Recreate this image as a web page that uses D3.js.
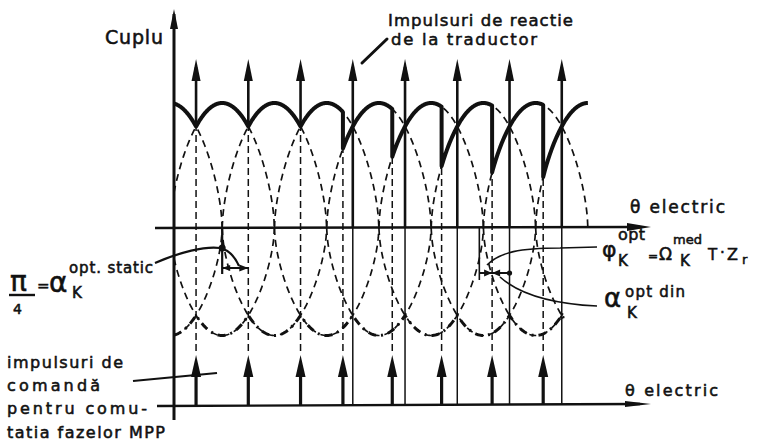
<!DOCTYPE html>
<html>
<head>
<meta charset="utf-8">
<script src="https://cdn.jsdelivr.net/npm/d3@7"></script>
<style>
  html, body { margin: 0; padding: 0; background: #fff; }
  svg { display: block; }
  text { font-family: "DejaVu Sans", sans-serif; fill: #111; stroke: #111; stroke-width: 0.55; }
</style>
</head>
<body>
<svg id="chart" width="768" height="444"></svg>
<script>
// Electrical angle θ (degrees) of each phase torque maximum
const phasePeaks = [-7, 83, 173, 263, 353, 443, 533, 623, 713];
// Feedback pulses from the position transducer (θ, degrees)
const feedbackPulses = [38, 128, 218, 308, 398, 488, 578, 668];
// Command pulses for phase commutation (θ, degrees)
const commandPulses = [38, 128, 218, 291, 376, 461, 548, 636];
// Depth of the negative torque lobes relative to the positive peak
const negDepth = 0.86;
// Static optimum commutation angle: from phase peak to command
const alphaStatic = [83, 128];
// Dynamic optimum: phase peak -> command -> feedback
const alphaDin = [526, 548, 578];

const svg = d3.select("#chart");
const x = d3.scaleLinear().domain([0, 820]).range([174, 650]);
const y = d3.scaleLinear().domain([0, 1]).range([228, 103]);
const yLow = 405;   // command pulse axis
const yTip = 59;    // tip of feedback pulse arrows
const yCmdTip = 355;
const EXP = 0.6;
const ink = "#111";

// phase torque shape around its maximum (d in degrees)
const hump = d => Math.abs(d) >= 90 ? 0 : Math.pow(Math.cos(d * Math.PI / 180), EXP);
const range = (a, b, s = 1) => { const r = []; for (let t = a; t <= b + 1e-9; t += s) r.push(t); if (r[r.length-1] < b) r.push(b); return r; };
const line = d3.line().x(d => x(d[0])).y(d => y(d[1]));

// ---- phase torque curves (dashed)
const gPhase = svg.append("g").attr("fill", "none").attr("stroke", ink)
  .attr("stroke-width", 1.7).attr("stroke-dasharray", "7,5");
phasePeaks.forEach(c => {
  const a = Math.max(0, c - 90), b = Math.min(715, c + 90);
  if (b > a) gPhase.append("path").attr("d", line(range(a, b).map(t => [t, hump(t - c)])));
  const a2 = Math.max(0, c - 90), b2 = Math.min(672, c + 90);
  if (b2 > a2) gPhase.append("path").attr("d", line(range(a2, b2).map(t => [t, -negDepth * hump(t - c)])));
});

// ---- lower envelope (dash-dot)
const lowEnv = range(0, 672).map(t => [t, -negDepth * d3.max(phasePeaks, c => hump(t - c))]);
svg.append("path").attr("d", line(lowEnv)).attr("fill", "none").attr("stroke", ink)
  .attr("stroke-width", 3).attr("stroke-dasharray", "8,5,2,5");

// ---- resulting torque with commutation at command pulses (thick)
const bounds = [0, ...commandPulses, 713];
let torque = [];
for (let i = 0; i < bounds.length - 1; i++) {
  const c = phasePeaks[i];
  torque = torque.concat(range(bounds[i], bounds[i + 1]).map(t => [t, hump(t - c)]));
}
svg.append("path").attr("d", line(torque)).attr("fill", "none").attr("stroke", ink)
  .attr("stroke-width", 4).attr("stroke-linejoin", "round");

// ---- axes
function arrowHead(tx, ty, dir, len, half) {
  const p = dir === "up"
    ? [[tx, ty], [tx - half, ty + len], [tx + half, ty + len]]
    : [[tx, ty], [tx - len, ty - half], [tx - len, ty + half]];
  svg.append("path").attr("d", "M" + p.map(q => q.join(",")).join("L") + "Z").attr("fill", ink);
}
// torque axis
svg.append("line").attr("x1", x(0)).attr("x2", x(0)).attr("y1", 14).attr("y2", 420)
  .attr("stroke", ink).attr("stroke-width", 3);
arrowHead(x(0), 9, "up", 20, 4);
// upper θ axis
svg.append("line").attr("x1", 155).attr("x2", 640).attr("y1", y(0)).attr("y2", y(0) - 1)
  .attr("stroke", ink).attr("stroke-width", 2.6);
arrowHead(651, y(0) - 1, "right", 24, 4);
// lower θ axis
svg.append("line").attr("x1", 157).attr("x2", 640).attr("y1", yLow + 1).attr("y2", yLow - 1)
  .attr("stroke", ink).attr("stroke-width", 2.4);
arrowHead(651, yLow - 1, "right", 26, 3);

// ---- feedback pulses (arrows from the top)
feedbackPulses.forEach((t, i) => {
  const coincide = commandPulses[i] === t;
  const yEnd = coincide ? y(hump(t - phasePeaks[i + 1])) : y(0);
  svg.append("line").attr("x1", x(t)).attr("x2", x(t)).attr("y1", yTip + 8).attr("y2", yEnd)
    .attr("stroke", ink).attr("stroke-width", 2.6);
  if (!coincide) {
    svg.append("line").attr("x1", x(t)).attr("x2", x(t)).attr("y1", y(0)).attr("y2", yLow)
      .attr("stroke", ink).attr("stroke-width", 1.5);
  }
  arrowHead(x(t), yTip, "up", 22, 4.5);
});

// ---- command pulses (arrows on the lower axis) with dashed guides
commandPulses.forEach((t, i) => {
  svg.append("line").attr("x1", x(t)).attr("x2", x(t)).attr("y1", yLow).attr("y2", yCmdTip + 10)
    .attr("stroke", ink).attr("stroke-width", 3.2);
  arrowHead(x(t), yCmdTip, "up", 22, 5);
  svg.append("line").attr("x1", x(t)).attr("x2", x(t)).attr("y1", yCmdTip - 4)
    .attr("y2", y(hump(t - phasePeaks[i + 1])))
    .attr("stroke", ink).attr("stroke-width", 1.5).attr("stroke-dasharray", "7,4");
});

// ---- static optimum angle marker
const gA = svg.append("g").attr("stroke", ink).attr("fill", "none");
gA.append("line").attr("x1", x(alphaStatic[0])).attr("x2", x(alphaStatic[0]))
  .attr("y1", y(0)).attr("y2", 274).attr("stroke-width", 2.2);
gA.append("line").attr("x1", x(alphaStatic[0])).attr("x2", x(alphaStatic[1]))
  .attr("y1", 268).attr("y2", 268).attr("stroke-width", 2);
svg.append("path").attr("fill", ink)
  .attr("d", `M${x(alphaStatic[1])},268 l-9,-3.5 l0,7Z M${x(alphaStatic[0])},268 l8,-3 l0,6Z`);
gA.append("path").attr("d", "M155,263 C180,252 205,246 220,248 C230,250 235,257 239,266")
  .attr("stroke-width", 2.2);
svg.append("circle").attr("cx", x(alphaStatic[0])).attr("cy", 248).attr("r", 3.5).attr("fill", ink);

// ---- dynamic optimum angle marker
gA.append("line").attr("x1", x(alphaDin[0])).attr("x2", x(alphaDin[0]))
  .attr("y1", y(0)).attr("y2", 280).attr("stroke-width", 1.6);
gA.append("line").attr("x1", x(alphaDin[0])).attr("x2", x(alphaDin[2]))
  .attr("y1", 273).attr("y2", 273).attr("stroke-width", 2);
svg.append("path").attr("fill", ink)
  .attr("d", `M${x(alphaDin[1])},273 l-8,-3.5 l0,7Z M${x(alphaDin[1])},273 l8,-3.5 l0,7Z`);
svg.append("circle").attr("cx", x(alphaDin[2])).attr("cy", 273).attr("r", 2.6).attr("fill", ink);
gA.append("path").attr("d", "M487,265 C500,252 520,248 560,248 L597,247").attr("stroke-width", 1.6);
gA.append("path").attr("d", "M500,277 C520,295 555,304 597,306").attr("stroke-width", 1.6);

// ---- leaders for the pulse labels
gA.append("line").attr("x1", 362).attr("y1", 63).attr("x2", 387).attr("y2", 39)
  .attr("stroke-width", 3).attr("stroke-linecap", "round");
gA.append("line").attr("x1", 133).attr("y1", 381).attr("x2", 217).attr("y2", 373)
  .attr("stroke-width", 2.2);

// ---- texts
const T = (tx, ty, s, size, len) => {
  const t = svg.append("text").attr("x", tx).attr("y", ty).attr("font-size", size).text(s);
  if (len) t.attr("textLength", len).attr("lengthAdjust", "spacing");
  return t;
};
T(105, 44, "Cuplu", 19, 58);
T(388, 26, "Impulsuri de reactie", 16.5, 185);
T(391, 45, "de la traductor", 16.5, 146);
T(630, 213, "θ electric", 17, 95);
T(625, 396, "θ electric", 16, 93);

T(7, 368, "impulsuri de", 16, 116);
T(7, 391, "comandă", 16, 93);
T(7, 414, "pentru comu-", 16, 140);
T(7, 438, "tatia fazelor MPP", 16, 158);

// π/4 = α_K^opt.static
T(10, 291, "π", 28);
svg.append("line").attr("x1", 9).attr("x2", 35).attr("y1", 295).attr("y2", 295)
  .attr("stroke", ink).attr("stroke-width", 2.4);
T(13, 314, "4", 14);
T(37, 291, "=", 15);
T(49, 292, "α", 28);
T(72, 298, "K", 15);
T(69, 273, "opt. static", 15, 84);

// φ_K^opt = Ω_K^med T · Z_r
T(602, 257, "φ", 22);
T(618, 240, "opt", 16, 27);
T(618, 266, "K", 15);
T(648, 260, "=", 12);
T(659, 260, "Ω", 17);
T(673, 244, "med", 13);
T(680, 266, "K", 15);
T(708, 260, "T", 15);
T(720, 258, "·", 15);
T(727, 260, "Z", 16);
T(742, 264, "r", 13);

// α_K^opt din
T(604, 307, "α", 26);
T(625, 297, "opt din", 15, 60);
T(627, 318, "K", 15);
</script>
</body>
</html>
